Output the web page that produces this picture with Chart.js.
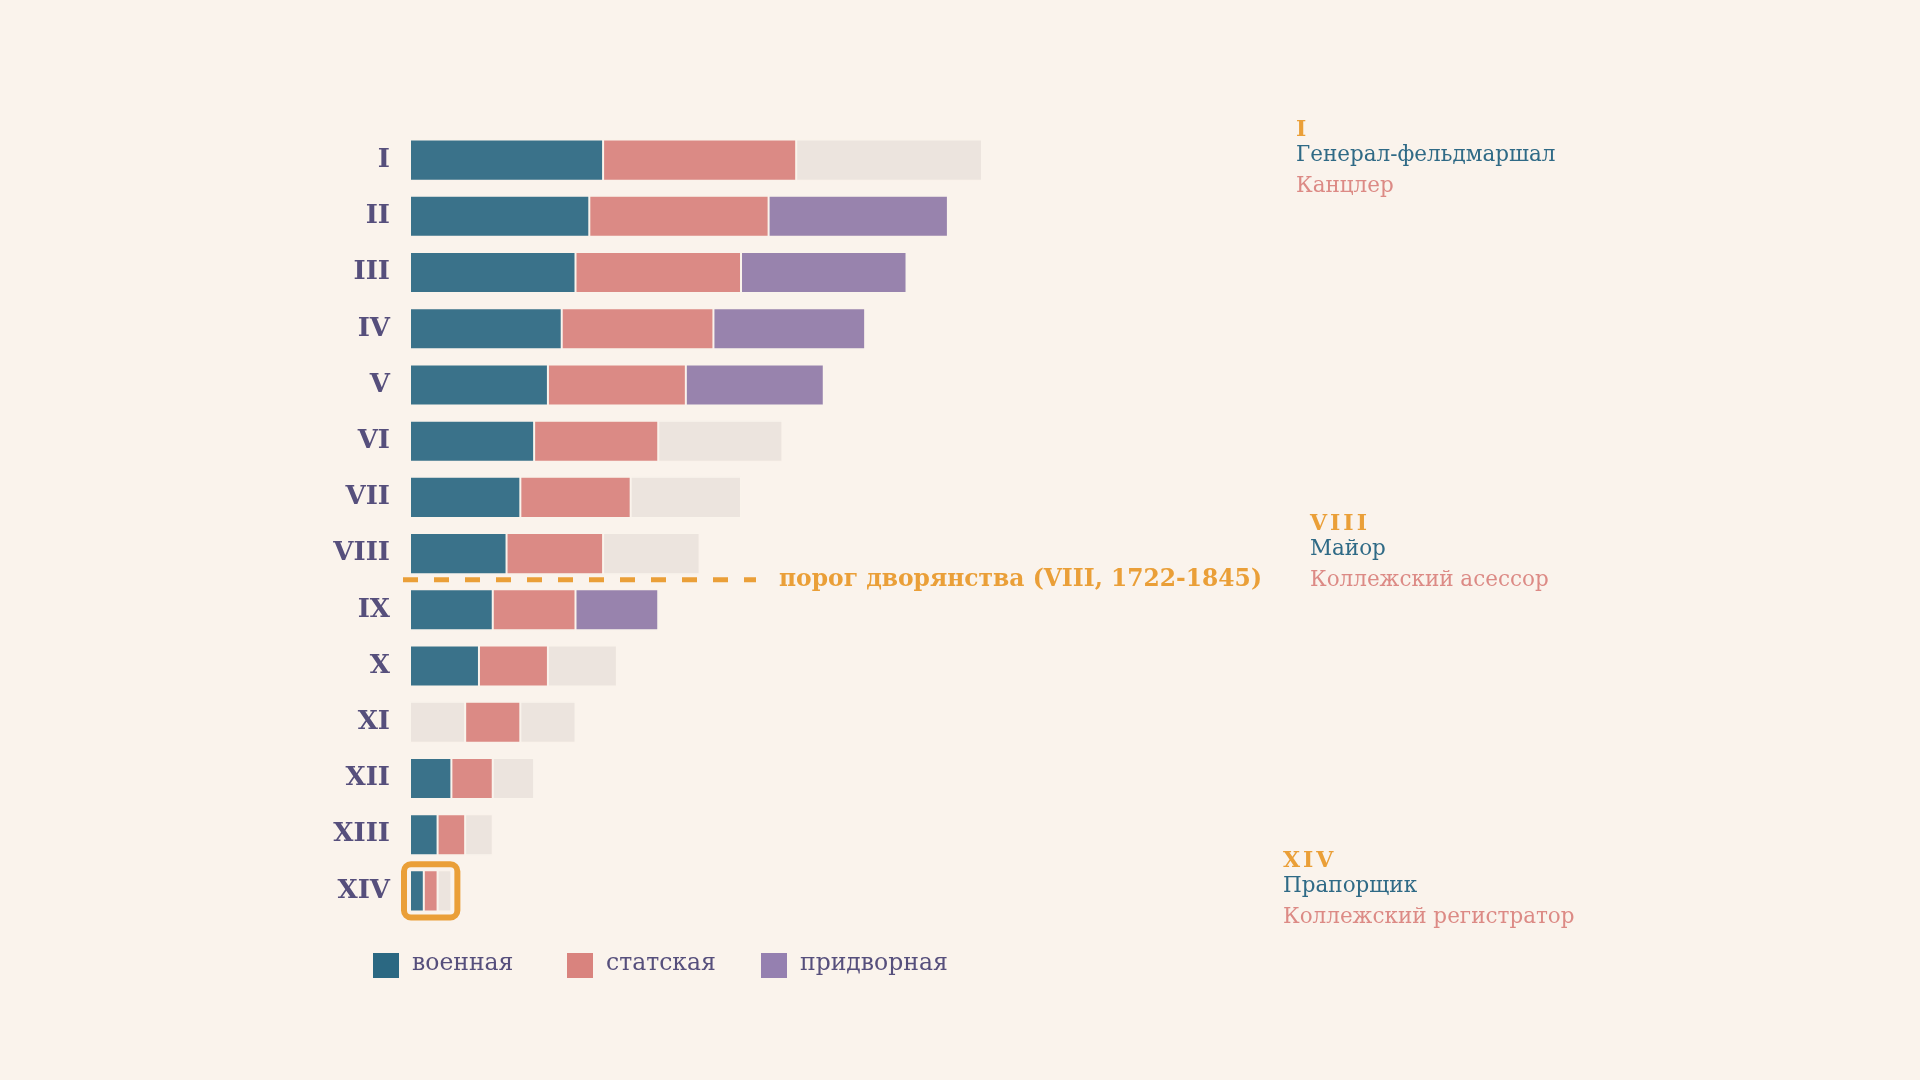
<!DOCTYPE html>
<html lang="ru">
<head>
<meta charset="utf-8">
<title>Табель о рангах</title>
<script src="https://cdn.jsdelivr.net/npm/chart.js@4.4.1/dist/chart.umd.min.js"></script>
<style>
  html, body { margin: 0; padding: 0; background: #faf3ec; }
  #wrap { width: 1920px; height: 1080px; position: relative; }
</style>
</head>
<body>
<div id="wrap"><canvas id="rankChart"></canvas></div>
<script>
// классы табели о рангах
const classes = ['I', 'II', 'III', 'IV', 'V', 'VI', 'VII', 'VIII', 'IX', 'X', 'XI', 'XII', 'XIII', 'XIV'];

// длина сегмента в каждой ветви
const military = [14, 13, 12, 11, 10, 9, 8, 7, 6, 5, 4, 3, 2, 1];
const civil    = [14, 13, 12, 11, 10, 9, 8, 7, 6, 5, 4, 3, 2, 1];
const court    = [14, 13, 12, 11, 10, 9, 8, 7, 6, 5, 4, 3, 2, 1];

// есть ли чин в этом классе (1 - есть, 0 - пусто, серый)
const hasMilitary = [1, 1, 1, 1, 1, 1, 1, 1, 1, 1, 0, 1, 1, 1];
const hasCivil    = [1, 1, 1, 1, 1, 1, 1, 1, 1, 1, 1, 1, 1, 1];
const hasCourt    = [0, 1, 1, 1, 1, 0, 0, 0, 1, 0, 0, 0, 0, 0];

const seriesNames = ['военная', 'статская', 'придворная'];

const thresholdClass = 'VIII';
const thresholdText = 'порог дворянства (VIII, 1722-1845)';
const highlightClass = 'XIV';

const notes = [
    { cls: 'I', title: 'I', mil: 'Генерал-фельдмаршал', civ: 'Канцлер' },
    { cls: 'VIII', title: 'VIII', mil: 'Майор', civ: 'Коллежский асессор' },
    { cls: 'XIV', title: 'XIV', mil: 'Прапорщик', civ: 'Коллежский регистратор' }
];

const BG = '#faf3ec';
const GREY = '#ece4de';
const BLUE = '#3a728a';
const PINK = '#db8a85';
const PURPLE = '#9883ad';
const ORANGE = '#ea9f38';
const INK = '#564f7c';
const FONT = '"DejaVu Serif", "Liberation Serif", serif';

const legendColors = ['#2b6882', '#d9837e', '#9580b0'];

function colorsFor(flags, color) {
    return flags.map(f => f ? color : GREY);
}

// фон
const bgPlugin = {
    id: 'bg',
    beforeDraw(chart) {
        const ctx = chart.ctx;
        ctx.save();
        ctx.fillStyle = BG;
        ctx.fillRect(0, 0, chart.width, chart.height);
        ctx.restore();
    }
};

// пунктир порога дворянства + рамка вокруг XIV
const markPlugin = {
    id: 'marks',
    afterDatasetsDraw(chart) {
        const ctx = chart.ctx;
        const y = chart.scales.y;
        const x = chart.scales.x;
        const left = chart.chartArea.left;

        const i = classes.indexOf(thresholdClass);
        const ly = (y.getPixelForValue(i) + y.getPixelForValue(i + 1)) / 2 - 2;
        ctx.save();
        ctx.strokeStyle = ORANGE;
        ctx.lineWidth = 5;
        ctx.setLineDash([15, 16]);
        ctx.beginPath();
        ctx.moveTo(left - 7, ly);
        ctx.lineTo(left + 346, ly);
        ctx.stroke();
        ctx.setLineDash([]);
        ctx.fillStyle = ORANGE;
        ctx.font = 'bold 23.4px ' + FONT;
        ctx.textBaseline = 'middle';
        ctx.textAlign = 'left';
        ctx.fillText(thresholdText, left + 369, ly);
        ctx.restore();

        // рамка
        const h = classes.indexOf(highlightClass);
        const metas = chart.data.datasets.map((d, k) => chart.getDatasetMeta(k));
        const last = metas[metas.length - 1].data[h];
        const first = metas[0].data[h];
        const x0 = x.getPixelForValue(0);
        const x1 = last.x;
        const y0 = first.y - first.height / 2;
        const y1 = first.y + first.height / 2;
        ctx.save();
        ctx.strokeStyle = ORANGE;
        ctx.lineWidth = 6;
        ctx.beginPath();
        ctx.roundRect(x0 - 6, y0 - 6, x1 - x0 + 12, y1 - y0 + 12, 7);
        ctx.stroke();
        ctx.restore();
    }
};

// подписи справа
const notePlugin = {
    id: 'notes',
    afterDraw(chart) {
        const ctx = chart.ctx;
        const y = chart.scales.y;
        const noteX = { 'I': 1296, 'VIII': 1310, 'XIV': 1283 };
        ctx.save();
        ctx.textAlign = 'left';
        ctx.textBaseline = 'alphabetic';
        notes.forEach(n => {
            const cy = y.getPixelForValue(classes.indexOf(n.cls));
            const nx = noteX[n.cls];
            ctx.font = 'bold 22px ' + FONT;
            ctx.fillStyle = ORANGE;
            ctx.letterSpacing = '3px';
            ctx.fillText(n.title, nx, cy - 24);
            ctx.letterSpacing = '0px';
            ctx.font = '21.5px ' + FONT;
            ctx.fillStyle = '#2f6a86';
            ctx.fillText(n.mil, nx, cy + 1);
            ctx.fillStyle = '#dc8a85';
            ctx.fillText(n.civ, nx, cy + 32);
        });
        ctx.restore();
    }
};

// легенда снизу
const legendPlugin = {
    id: 'bottomLegend',
    afterDraw(chart) {
        const ctx = chart.ctx;
        ctx.save();
        ctx.font = '23.5px ' + FONT;
        ctx.textBaseline = 'middle';
        ctx.textAlign = 'left';
        chart.data.datasets.forEach((d, k) => {
            const sx = 373 + k * 194;
            ctx.fillStyle = legendColors[k];
            ctx.fillRect(sx, 953, 26, 25);
            ctx.fillStyle = INK;
            ctx.fillText(d.label, sx + 39, 964);
        });
        ctx.restore();
    }
};

const barStyle = {
    borderColor: 'rgba(250,243,236,0.95)',
    borderWidth: 1,
    borderSkipped: false,
    barPercentage: 0.73,
    categoryPercentage: 1
};

const ctx = document.getElementById('rankChart').getContext('2d');
const rankChart = new Chart(ctx, {
    type: 'bar',
    data: {
        labels: classes,
        datasets: [
            Object.assign({ label: seriesNames[0], data: military, backgroundColor: colorsFor(hasMilitary, BLUE) }, barStyle),
            Object.assign({ label: seriesNames[1], data: civil, backgroundColor: colorsFor(hasCivil, PINK) }, barStyle),
            Object.assign({ label: seriesNames[2], data: court, backgroundColor: colorsFor(hasCourt, PURPLE) }, barStyle)
        ]
    },
    options: {
        indexAxis: 'y',
        responsive: true,
        maintainAspectRatio: false,
        animation: false,
        layout: { padding: { left: 0, right: 939, top: 132, bottom: 161 } },
        plugins: {
            legend: { display: false },
            tooltip: { enabled: false }
        },
        scales: {
            x: {
                stacked: true,
                min: 0,
                max: 41.4,
                display: false
            },
            y: {
                stacked: true,
                grid: { display: false, drawTicks: false },
                border: { display: false },
                ticks: {
                    color: INK,
                    padding: 20,
                    font: { family: FONT, size: 26, weight: 'bold' }
                },
                afterFit: s => { s.width = 410; }
            }
        }
    },
    plugins: [bgPlugin, markPlugin, notePlugin, legendPlugin]
});
</script>
</body>
</html>
